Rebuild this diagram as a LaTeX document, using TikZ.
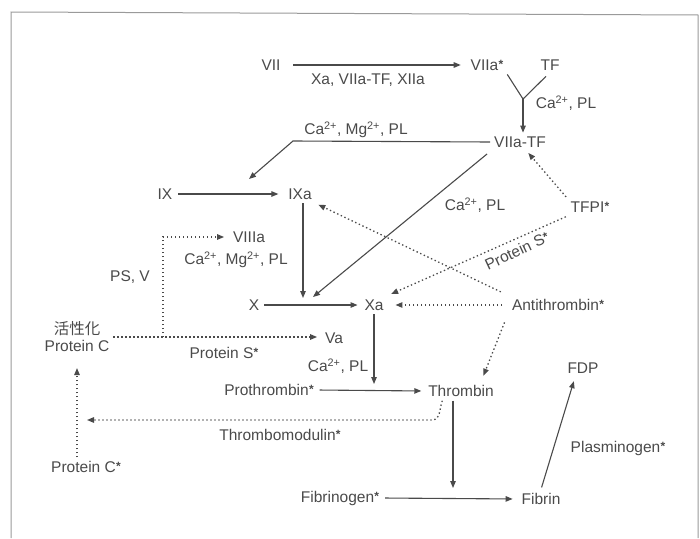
\documentclass[tikz,border=0pt]{standalone}
\usepackage{fontspec}
\setmainfont{Liberation Sans}
\newfontfamily\cjk{Noto Sans CJK JP}
\usetikzlibrary{arrows.meta,calc}
\definecolor{ink}{HTML}{4A4A4A}
\definecolor{frame}{HTML}{9A9A9A}
\newcommand\st{\kern0.3pt\raisebox{0.12em}{\fontsize{12}{12}\selectfont\bfseries *}}
\newcommand\ca{Ca\textsuperscript{2+}}
\newcommand\mg{Mg\textsuperscript{2+}}
\tikzset{
  lbl/.style={text=ink, font=\fontsize{15.5}{17}\selectfont, inner sep=4pt, outer sep=0pt},
  nd/.style={lbl},
  con/.style={draw=ink, line width=1.1pt, -{Triangle[length=7pt,width=5.5pt]}},
  dcon/.style={con, line width=1.3pt, dash pattern=on 1.4pt off 2.6pt},
  plain/.style={draw=ink, line width=1.1pt}
}
\begin{document}
\begin{tikzpicture}[x=1pt,y=-1pt]
\useasboundingbox (0,0) rectangle (700,538);
% frame
\draw[frame, line width=1pt] (11,538) -- (11,12) -- (698,15) -- (698,538);

% nodes
\node[nd] (VII) at (271,65) {VII};
\node[nd] (VIIa) at (487,65) {VIIa\st};
\node[nd] (TF) at (550,65) {TF};
\node[lbl] (lXa) at (368,80) {Xa, VIIa-TF, XIIa};
\node[lbl] (lY) at (566,103) {\ca, PL};
\node[nd] (VIIaTF) at (520,142) {VIIa-TF};
\node[lbl] (lCaMg1) at (356,130) {\ca, \mg, PL};
\node[nd] (IX) at (165,194) {IX};
\node[nd] (IXa) at (300,194) {IXa};
\node[lbl] (lCa2) at (475,205) {\ca, PL};
\node[nd] (TFPI) at (590,207) {TFPI\st};
\node[nd] (AT) at (558,305) {Antithrombin\st};
\node[lbl, rotate=25, inner sep=1pt] (lPS1) at (517,251) {Protein S\st};
\node[nd] (VIIIa) at (249,237) {VIIIa};
\node[lbl] (lCaMg2) at (236,260) {\ca, \mg, PL};
\node[lbl] (lPSV) at (130,277) {PS, V};
\node[nd] (X) at (254,305) {X};
\node[nd] (Xa) at (374,305) {Xa};
\node[nd, align=center] (PC) at (77,337) {{\cjk 活性化}\\Protein C};
\node[nd] (Va) at (334,338) {Va};
\node[lbl] (lPS2) at (224,353) {Protein S\st};
\node[lbl] (lCa3) at (338,366) {\ca, PL};
\node[nd] (Pro) at (269,390) {Prothrombin\st};
\node[nd] (Thr) at (461,391) {Thrombin};
\node[lbl] (lTM) at (280,435) {Thrombomodulin\st};
\node[nd] (PCs) at (86,467) {Protein C\st};
\node[nd] (Fbg) at (340,498) {Fibrinogen\st};
\node[nd] (Fib) at (541,499) {Fibrin};
\node[nd] (FDP) at (583,368) {FDP};
\node[lbl] (lPlg) at (618,448) {Plasminogen\st};

% coordinates
\coordinate (J) at (523,99);
\coordinate (C1) at (293,141);
\coordinate (T1) at (249,179);
\coordinate (T2) at (303,298);
\coordinate (T3) at (313,297);
\coordinate (K2) at (163,337);
\coordinate (K1) at (163,237);
\coordinate (T4) at (374,384);
\coordinate (TM1) at (432,420);
\coordinate (TM2) at (87,420);
\coordinate (T5) at (453,488);

% connectors
\draw[con, shorten <=9pt, shorten >=6pt] (VII.east) -- (VIIa.west);
\draw[plain] (VIIa.south east) -- (J);
\draw[plain] ($(TF.south)+(-4,2)$) -- (J);
\draw[con] (J) -- (J |- VIIaTF.north);
\draw[con] (VIIaTF.west) -- (C1) -- (T1);
\draw[con, shorten <=2pt, shorten >=6pt] (IX.east) -- (IXa.west);
\draw[con] (T2 |- IXa.south) -- (T2);
\draw[con, shorten <=4pt] (VIIaTF.south west) -- (T3);
\draw[dcon, shorten <=1pt, shorten >=2pt] (TFPI.north west) -- ($(VIIaTF.south)+(7,0)$);
\draw[dcon, shorten <=1pt, shorten >=4pt] (TFPI.south west) -- (Xa.north east);
\draw[dcon, shorten <=8pt, shorten >=3pt] (AT.north west) -- (IXa.south east);
\draw[dcon, shorten <=6pt, shorten >=8pt] (AT.west) -- (Xa.east);
\draw[dcon, shorten <=4pt, shorten >=6pt] ($(AT.south west)+(-2,4)$) -- ($(Thr.north)!0.55!(Thr.north east)$);
\draw[con, shorten <=1pt, shorten >=3pt] (X.east) -- (Xa.west);
\draw[dcon, shorten >=4pt] (PC.east |- K2) -- (Va.west |- K2);
\draw[dcon, shorten >=5pt] (K2) -- (K1) -- (VIIIa.west);
\draw[con] (Xa.south) -- (T4);
\draw[con, shorten <=2pt, shorten >=3pt] (Pro.east) -- (Thr.west);
\draw[dcon] ($(Thr.south west)+(18,0)$) to[out=-110,in=0] (TM1) -- (TM2);
\draw[dcon, shorten >=12pt] (PC.south |- PCs.north) -- (PC.south);
\draw[con] (T5 |- Thr.south) -- (T5);
\draw[con, shorten <=2pt, shorten >=5pt] (Fbg.east) -- (Fib.west);
\draw[con, shorten <=2pt, shorten >=4pt] (Fib.north) -- ($(FDP.south)+(-8,0)$);
\end{tikzpicture}
\end{document}
